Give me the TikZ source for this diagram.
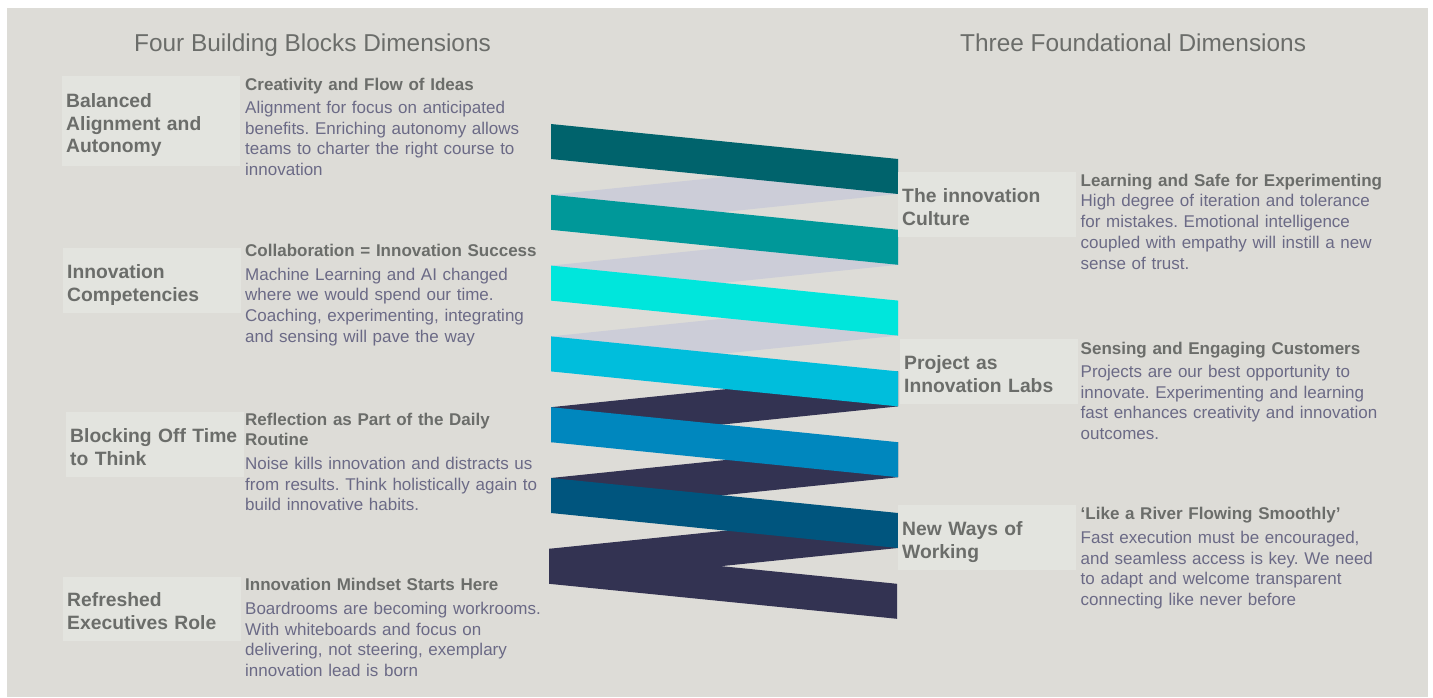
\documentclass[tikz,border=0pt]{standalone}
\usepackage{fontspec}
\setmainfont{Liberation Sans}
\frenchspacing

\definecolor{pagebg}{HTML}{DDDCD7}
\definecolor{boxbg}{HTML}{E3E4DF}
\definecolor{headgrey}{HTML}{6B6D6A}
\definecolor{bodyblue}{HTML}{6B6A86}
\definecolor{ribdeep}{HTML}{00636C}
\definecolor{ribteal}{HTML}{009899}
\definecolor{ribaqua}{HTML}{00E6DC}
\definecolor{ribsky}{HTML}{00BEDC}
\definecolor{ribblue}{HTML}{0087BE}
\definecolor{ribnavy}{HTML}{00557E}
\definecolor{ribdark}{HTML}{333352}
\definecolor{ribback}{HTML}{CCCDD8}

\newcommand{\topstrut}{\rule{0pt}{22pt}}
\newcommand{\botstrut}{\rule[-4pt]{0pt}{4pt}}
\newcommand{\headstrut}{\rule{0pt}{14pt}}

\begin{document}
\begin{tikzpicture}[x=1pt, y=-1pt,
    dimtitle/.style={anchor=base west, inner sep=0pt, text=headgrey, font=\fontsize{24.4}{28}\selectfont},
    dimbox/.style={anchor=north west, fill=boxbg, inner xsep=4pt, inner ysep=0pt, text width=170pt, align=left, text=headgrey, font=\fontsize{19.3}{22.7}\selectfont\bfseries},
    dimtext/.style={anchor=north west, inner sep=0pt, text width=310pt, align=left, text=bodyblue, font=\fontsize{17}{20.7}\selectfont}]

    % Page and background
    \useasboundingbox (0,0) rectangle (1433,698);
    \fill[white] (0,0) rectangle (1433,698);
    \fill[pagebg] (7,8) rectangle (1428,697);

    % Column titles
    \node[dimtitle] (fourtitle) at (134,52) {Four Building Blocks Dimensions};
    \node[dimtitle] (threetitle) at (960,52) {Three Foundational Dimensions};

    % Back faces of the ribbon
    \fill[ribback] (898,159) -- (898,194) -- (551,229.8) -- (551,194.8) -- cycle;
    \fill[ribback] (898,229.8) -- (898,264.8) -- (551,300.6) -- (551,265.6) -- cycle;
    \fill[ribback] (898,300.6) -- (898,335.6) -- (551,371.4) -- (551,336.4) -- cycle;
    \fill[ribdark] (898,371.4) -- (898,406.4) -- (551,442.2) -- (551,407.2) -- cycle;
    \fill[ribdark] (898,442.2) -- (898,477.2) -- (551,513) -- (551,478) -- cycle;
    \fill[ribdark] (898,513) -- (898,548) -- (549,583.8) -- (549,548.8) -- cycle;

    % Front faces of the ribbon
    \fill[ribdeep] (551,124) -- (898,159) -- (898,194) -- (551,159) -- cycle;
    \fill[ribteal] (551,194.8) -- (898,229.8) -- (898,264.8) -- (551,229.8) -- cycle;
    \fill[ribaqua] (551,265.6) -- (898,300.6) -- (898,335.6) -- (551,300.6) -- cycle;
    \fill[ribsky] (551,336.4) -- (898,371.4) -- (898,406.4) -- (551,371.4) -- cycle;
    \fill[ribblue] (551,407.2) -- (898,442.2) -- (898,477.2) -- (551,442.2) -- cycle;
    \fill[ribnavy] (551,478) -- (898,513) -- (898,548) -- (551,513) -- cycle;
    \fill[ribdark] (549,548.8) -- (897,583.8) -- (897,618.8) -- (549,583.8) -- cycle;

    % Four building blocks (left)
    \node[dimbox, minimum height=90pt] (balanced) at (62,76) {\topstrut Balanced\\ Alignment and\\ Autonomy\botstrut};
    \node[dimtext] (balancedtxt) at (245,76) {\headstrut{\bfseries\color{headgrey}Creativity and Flow of Ideas}\\[2.6pt]
        Alignment for focus on anticipated\\ benefits. Enriching autonomy allows\\ teams to charter the right course to\\ innovation};

    \node[dimbox, minimum height=65pt] (competencies) at (63,248) {\topstrut Innovation\\ Competencies\botstrut};
    \node[dimtext] (competenciestxt) at (245,242.7) {\headstrut{\bfseries\color{headgrey}Collaboration = Innovation Success}\\[2.6pt]
        Machine Learning and AI changed\\ where we would spend our time.\\ Coaching, experimenting, integrating\\ and sensing will pave the way};

    \node[dimbox, minimum height=65pt] (blocking) at (66,412) {\topstrut Blocking Off Time\\ to Think\botstrut};
    \node[dimtext] (blockingtxt) at (245,411) {\headstrut{\bfseries\color{headgrey}Reflection as Part of the Daily\\[-0.7pt] Routine}\\[3.6pt]
        Noise kills innovation and distracts us\\ from results. Think holistically again to\\ build innovative habits.};

    \node[dimbox, minimum height=64pt] (executives) at (63,577) {\topstrut Refreshed\\ Executives Role\botstrut};
    \node[dimtext] (executivestxt) at (245,576) {\headstrut{\bfseries\color{headgrey}Innovation Mindset Starts Here}\\[3.6pt]
        Boardrooms are becoming workrooms.\\ With whiteboards and focus on\\ delivering, not steering, exemplary\\ innovation lead is born};

    % Three foundational dimensions (right)
    \node[dimbox, minimum height=65pt] (culture) at (898,172) {\topstrut The innovation\\ Culture\botstrut};
    \node[dimtext] (culturetxt) at (1080.5,172) {\headstrut{\bfseries\color{headgrey}Learning and Safe for Experimenting}\\
        High degree of iteration and tolerance\\ for mistakes. Emotional intelligence\\ coupled with empathy will instill a new\\ sense of trust.};

    \node[dimbox, minimum height=65pt] (labs) at (900,339) {\topstrut Project as\\ Innovation Labs\botstrut};
    \node[dimtext] (labstxt) at (1080.5,340.3) {\headstrut{\bfseries\color{headgrey}Sensing and Engaging Customers}\\[2.3pt]
        Projects are our best opportunity to\\ innovate. Experimenting and learning\\ fast enhances creativity and innovation\\ outcomes.};

    \node[dimbox, minimum height=65pt] (working) at (898,505) {\topstrut New Ways of\\ Working\botstrut};
    \node[dimtext] (workingtxt) at (1080.5,505.3) {\headstrut{\bfseries\color{headgrey}‘Like a River Flowing Smoothly’}\\[3.3pt]
        Fast execution must be encouraged,\\ and seamless access is key. We need\\ to adapt and welcome transparent\\ connecting like never before};
\end{tikzpicture}
\end{document}
